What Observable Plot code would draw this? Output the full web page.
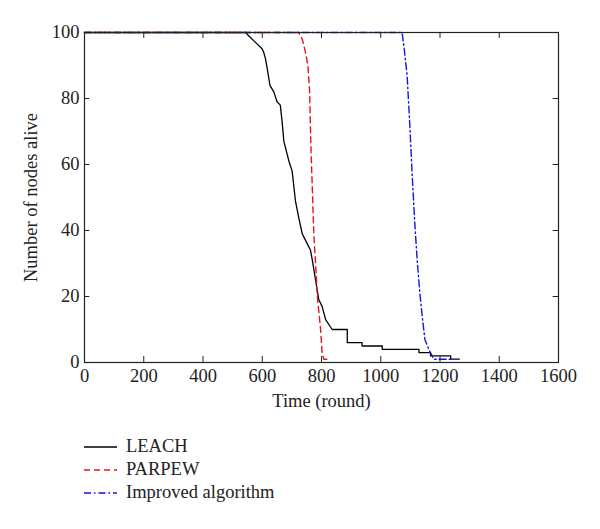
<!DOCTYPE html>
<html>
<head>
<meta charset="utf-8">
<script src="https://cdn.jsdelivr.net/npm/d3@7"></script>
<script src="https://cdn.jsdelivr.net/npm/@observablehq/plot@0.6"></script>
<style>
  body { margin: 0; background: #fff; font-family: "Liberation Serif", serif; }
  #legend { padding-left: 84px; padding-top: 23px; font-size: 18.5px; color: #222; }
  .row { display: flex; align-items: center; height: 23px; }
  .row svg { margin-right: 9px; }
</style>
</head>
<body>
<div id="chart"></div>
<div id="legend"></div>
<script>
// Series data (round, nodes alive)
const leachRound = [0, 544, 554, 577, 600, 605, 611, 617, 626, 639, 650, 661, 667, 673, 690, 701, 712, 723, 735, 746, 763, 769, 780, 791, 802, 814, 836, 887, 887, 937, 937, 1005, 1005, 1129, 1129, 1168, 1168, 1236, 1236, 1265];
const leachAlive = [100, 100, 99, 97, 95, 94, 92, 89, 84, 82, 79, 78, 73, 67, 61, 58, 49, 44, 39, 37, 34, 31, 25, 19, 17, 13, 10, 10, 6, 6, 5, 5, 4, 4, 3, 3, 2, 2, 1, 1];

const parpewRound = [0, 723, 735, 746, 754, 760, 763, 765, 769, 774, 780, 786, 797, 802, 808, 830];
const parpewAlive = [100, 100, 98, 94, 90, 82, 70, 63, 53, 39, 30, 20, 10, 3, 1, 1];

const improvedRound = [0, 1072, 1078, 1089, 1098, 1106, 1115, 1123, 1132, 1140, 1149, 1162, 1179, 1241];
const improvedAlive = [100, 100, 96, 87, 72, 57, 42, 31, 21, 14, 7, 4, 1, 1];

const xTicks = [0, 200, 400, 600, 800, 1000, 1200, 1400, 1600];
const yTicks = [0, 20, 40, 60, 80, 100];

const seriesNames = ["LEACH", "PARPEW", "Improved algorithm"];
const seriesColors = ["#000000", "#e8141c", "#1515e0"];
const seriesDash = [null, "6,4", "7,3,1.5,3"];

const toRows = (xs, ys) => xs.map((x, i) => ({x, y: ys[i]}));
const leach = toRows(leachRound, leachAlive);
const parpew = toRows(parpewRound, parpewAlive);
const improved = toRows(improvedRound, improvedAlive);

const fs = 18.5;

const plot = Plot.plot({
  width: 600,
  height: 412,
  marginLeft: 84,
  marginRight: 42,
  marginTop: 32,
  marginBottom: 50,
  style: {fontFamily: "Liberation Serif, serif", fontSize: fs + "px", color: "#222", background: "#fff"},
  x: {domain: [0, 1600]},
  y: {domain: [0, 100]},
  marks: [
    Plot.line(leach, {x: "x", y: "y", stroke: seriesColors[0], strokeWidth: 1.3}),
    Plot.line(parpew, {x: "x", y: "y", stroke: seriesColors[1], strokeWidth: 1.4, strokeDasharray: seriesDash[1]}),
    Plot.line(improved, {x: "x", y: "y", stroke: seriesColors[2], strokeWidth: 1.4, strokeDasharray: seriesDash[2]}),
    Plot.ruleX(xTicks, {x: d => d, y1: 0, y2: 1.8, stroke: "#222"}),
    Plot.ruleX(xTicks, {x: d => d, y1: 100, y2: 98.2, stroke: "#222"}),
    Plot.ruleY(yTicks, {y: d => d, x1: 0, x2: 18, stroke: "#222"}),
    Plot.ruleY(yTicks, {y: d => d, x1: 1600, x2: 1582, stroke: "#222"}),
    Plot.frame({stroke: "#222", strokeWidth: 1.2}),
    Plot.axisX(xTicks, {tickSize: 0, tickPadding: 6, tickFormat: d => String(d), fontSize: fs, label: "Time (round)", labelAnchor: "center", labelOffset: 44, labelArrow: "none"}),
    Plot.axisY(yTicks, {tickSize: 0, tickPadding: 5, tickFormat: d => String(d), fontSize: fs, label: "Number of nodes alive", labelAnchor: "center", labelOffset: 61, labelArrow: "none"})
  ]
});
document.getElementById("chart").appendChild(plot);

const legend = document.getElementById("legend");
seriesNames.forEach((name, i) => {
  const row = document.createElement("div");
  row.className = "row";
  const dash = seriesDash[i] ? ` stroke-dasharray="${seriesDash[i]}"` : "";
  row.innerHTML = `<svg width="33" height="10"><line x1="0" y1="5" x2="33" y2="5" stroke="${seriesColors[i]}" stroke-width="1.4"${dash}/></svg><span>${name}</span>`;
  legend.appendChild(row);
});
</script>
</body>
</html>
